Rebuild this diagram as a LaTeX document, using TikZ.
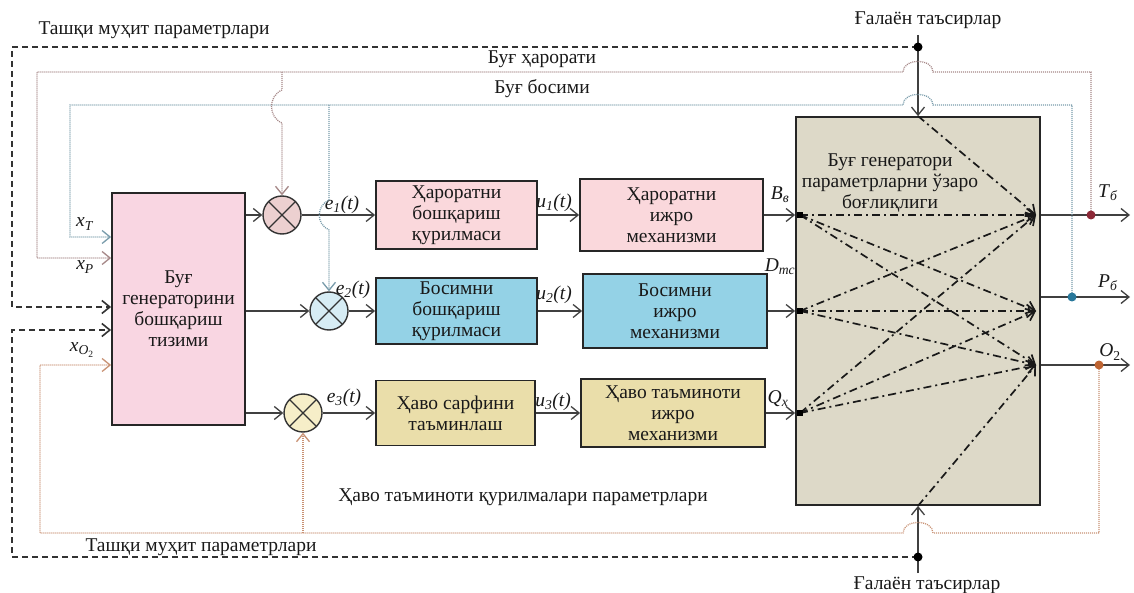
\documentclass[tikz,border=0pt]{standalone}
\usepackage{fontspec}
\setmainfont{Liberation Serif}
\usetikzlibrary{arrows.meta}
\definecolor{ctrlpink}{RGB}{249,214,226}
\definecolor{tpink}{RGB}{250,216,220}
\definecolor{pblue}{RGB}{148,210,230}
\definecolor{okhaki}{RGB}{234,222,170}
\definecolor{genbeige}{RGB}{221,217,200}
\definecolor{sumpink}{RGB}{236,208,208}
\definecolor{sumblue}{RGB}{214,236,244}
\definecolor{sumyel}{RGB}{246,238,200}
\definecolor{tred}{RGB}{140,40,55}
\definecolor{pteal}{RGB}{40,120,155}
\definecolor{obrown}{RGB}{190,100,50}
\definecolor{tline}{RGB}{165,135,135}
\definecolor{pline}{RGB}{120,155,170}
\definecolor{oline}{RGB}{200,145,115}

\begin{document}
\begin{tikzpicture}[x=1pt,y=-1pt,>={Straight Barb[length=8pt,width=13pt]},
  every node/.style={font=\fontsize{19.5}{21}\selectfont, text=black!90},
  blk/.style={draw=black!85, line width=1.8pt, align=center, inner sep=0pt},
  sum/.style={draw=black!80, line width=1.4pt, circle, minimum size=38pt, inner sep=0pt,
    path picture={\draw[line width=1.4pt,black!80] (path picture bounding box.north west) -- (path picture bounding box.south east) (path picture bounding box.north east) -- (path picture bounding box.south west);}},
  sig/.style={->, line width=1.3pt, black!75},
  ext/.style={->, line width=1.6pt, black!80, dash pattern=on 6pt off 4pt},
  fb/.style={->, line width=1.3pt, dash pattern=on 1pt off 1pt, #1},
  dd/.style={->, line width=1.7pt, black!90, dash pattern=on 8pt off 4pt on 2pt off 4pt},
  dot/.style={circle, fill=#1, inner sep=0pt, minimum size=9pt},
  sq/.style={fill=black, inner sep=0pt, minimum size=6pt}]
\useasboundingbox (0,0) rectangle (1134,593);

\node[blk, fill=ctrlpink, minimum width=133pt, minimum height=232pt] (ctrl) at (178.5,309) {Буғ\\генераторини\\бошқариш\\тизими};
\node[sum, fill=sumpink] (j1) at (282,215) {};
\node[sum, fill=sumblue] (j2) at (329,311) {};
\node[sum, fill=sumyel] (j3) at (303,413) {};
\node[blk, fill=tpink, minimum width=161pt, minimum height=68pt] (b1) at (456.5,215) {Ҳароратни\\бошқариш\\қурилмаси};
\node[blk, fill=tpink, minimum width=183pt, minimum height=72pt] (a1) at (671.5,215) {Ҳароратни\\ижро\\механизми};
\node[blk, fill=pblue, minimum width=161pt, minimum height=66pt] (b2) at (456.5,311) {Босимни\\бошқариш\\қурилмаси};
\node[blk, fill=pblue, minimum width=184pt, minimum height=74pt] (a2) at (675,311) {Босимни\\ижро\\механизми};
\node[blk, fill=okhaki, minimum width=159pt, minimum height=65pt] (b3) at (455.5,413) {Ҳаво сарфини\\таъминлаш};
\node[blk, fill=okhaki, minimum width=184pt, minimum height=68pt] (a3) at (673,413) {Ҳаво таъминоти\\ижро\\механизми};
\node[blk, fill=genbeige, minimum width=244pt, minimum height=388pt] (gen) at (918,311) {};
\node[align=center] (gtxt) at (890,183) {Буғ генератори\\параметрларни ўзаро\\боғлиқлиги};

\coordinate (L1) at (800,215);
\coordinate (L2) at (800,311);
\coordinate (L3) at (800,413);
\coordinate (R1) at (1036,215);
\coordinate (R2) at (1036,311);
\coordinate (R3) at (1036,365);
\coordinate (oT) at (1130,215);
\coordinate (oP) at (1130,297);
\coordinate (oO) at (1130,365);
\coordinate (gtop) at (918,35);
\coordinate (gbot) at (918,573);

\node[anchor=west] (tm1) at (35,30) {Ташқи муҳит параметрлари};
\node[anchor=west] (tm2) at (82,547) {Ташқи муҳит параметрлари};
\node (g1) at (928,20) {Ғалаён таъсирлар};
\node (g2) at (927,585) {Ғалаён таъсирлар};
\node (bh) at (542,59) {Буғ ҳарорати};
\node (bb) at (542,89) {Буғ босими};
\node (hq) at (523,497) {Ҳаво таъминоти қурилмалари параметрлари};

\node (lxt) at (85,224) {\textit{x}\textsubscript{\textit{T}}};
\node (lxp) at (85,267) {\textit{x}\textsubscript{\textit{P}}};
\node (lxo) at (82,350) {\textit{x}\textsubscript{\textit{O}\textsubscript{2}}};
\node (le1) at (342,205) {\textit{e\textsubscript{1}(t)}};
\node (le2) at (353,290) {\textit{e\textsubscript{2}(t)}};
\node (le3) at (344,398) {\textit{e\textsubscript{3}(t)}};
\node (lu1) at (554,203) {\textit{u\textsubscript{1}(t)}};
\node (lu2) at (554,295) {\textit{u\textsubscript{2}(t)}};
\node (lu3) at (553,402) {\textit{u\textsubscript{3}(t)}};
\node (lb) at (780,195) {\textit{B}\textsubscript{\textit{в}}};
\node (ld) at (780,267) {\textit{D}\textsubscript{\textit{тс}}};
\node (lq) at (778,399) {\textit{Q}\textsubscript{\textit{x}}};
\node (lt) at (1108,193) {\textit{T}\textsubscript{\textit{б}}};
\node (lp) at (1108,283) {\textit{P}\textsubscript{\textit{б}}};
\node (lo) at (1110,352) {\textit{O}\textsubscript{2}};

\draw[sig] (ctrl.east |- j1) -- (j1);
\draw[sig] (ctrl.east |- j2) -- (j2);
\draw[sig] (ctrl.east |- j3) -- (j3);
\draw[sig] (j1) -- (b1);
\draw[sig] (j2) -- (b2);
\draw[sig] (j3) -- (b3);
\draw[sig] (b1) -- (a1);
\draw[sig] (b2) -- (a2);
\draw[sig] (b3) -- (a3);
\draw[sig] (a1) -- (gen.west |- a1);
\draw[sig] (a2) -- (gen.west |- a2);
\draw[sig] (a3) -- (gen.west |- a3);
\draw[sig] (gen.east |- R1) -- (oT);
\draw[sig] (gen.east |- oP) -- (oP);
\draw[sig] (gen.east |- R3) -- (oO);
\draw[sig] (gtop) -- (gen.north);
\draw[sig] (gbot) -- (gen.south);

\draw[dd] (gen.north) -- (R1);
\draw[dd] (L1) -- (R1);
\draw[dd] (L1) -- (R2);
\draw[dd] (L1) -- (R3);
\draw[dd] (L2) -- (R1);
\draw[dd] (L2) -- (R2);
\draw[dd] (L2) -- (R3);
\draw[dd] (L3) -- (R1);
\draw[dd] (L3) -- (R2);
\draw[dd] (L3) -- (R3);
\draw[dd] (gen.south) -- (R3);
\node[sq] (s1) at (L1) {};
\node[sq] (s2) at (L2) {};
\node[sq] (s3) at (L3) {};

\draw[ext] (918,47) -- (12,47) |- (ctrl.west |- 0,307);
\draw[ext] (918,557) -- (12,557) |- (ctrl.west |- 0,330);

\draw[fb=tline] (1091,215) -- (1091,72) -- (933,72) .. controls (933,58) and (903,58) .. (903,72) -- (37,72) |- (ctrl.west |- 0,258);
\draw[fb=pline] (1072,297) -- (1072,105) -- (933,105) .. controls (933,91) and (903,91) .. (903,105) -- (70,105) |- (ctrl.west |- 0,237);
\draw[fb=oline] (1099,365) -- (1099,533) -- (933,533) .. controls (933,519) and (903,519) .. (903,533) -- (40,533) |- (ctrl.west |- 0,365);
\draw[fb=tline] (282,72) -- (282,90) .. controls (268,96) and (268,117) .. (282,123) -- (j1.north);
\draw[fb=pline] (329,105) -- (329,200) .. controls (316,206) and (316,224) .. (329,230) -- (j2.north);
\draw[fb=oline] (303,533) -- (j3.south);

\node[dot=black] (d1) at (918,47) {};
\node[dot=black] (d2) at (918,557) {};
\node[dot=tred] (dT) at (1091,215) {};
\node[dot=pteal] (dP) at (1072,297) {};
\node[dot=obrown] (dO) at (1099,365) {};
\end{tikzpicture}
\end{document}
